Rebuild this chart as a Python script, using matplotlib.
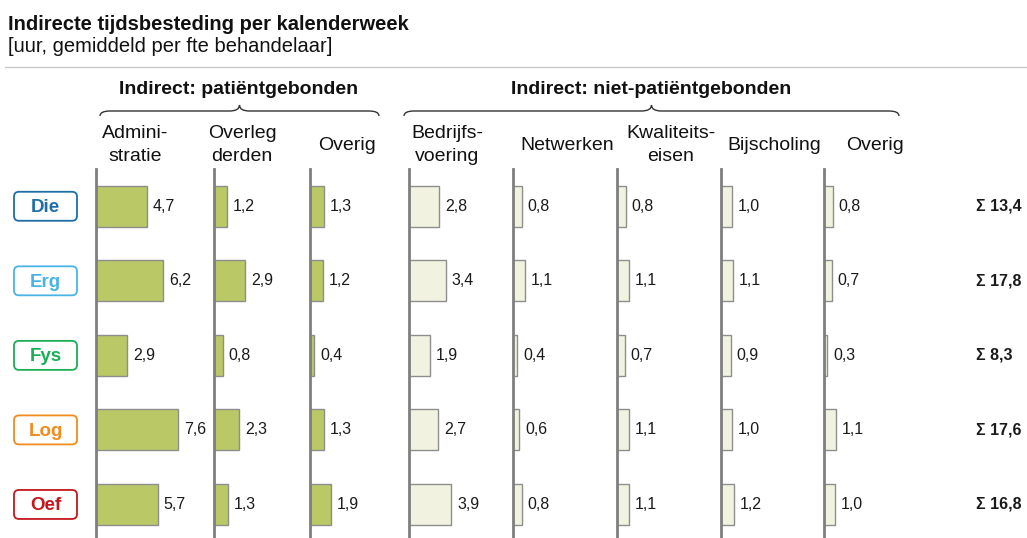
import matplotlib.pyplot as plt
import matplotlib.transforms as mtransforms
from matplotlib.patches import FancyBboxPatch, PathPatch
from matplotlib.path import Path

plt.rcParams['font.family'] = ['Liberation Sans', 'DejaVu Sans']

# Data
groups = ['Die', 'Erg', 'Fys', 'Log', 'Oef']
group_colors = ['#1f6ea6', '#48b4e6', '#1aae55', '#f28c1c', '#c4161c']
categories = ['Admini-\nstratie', 'Overleg\nderden', 'Overig', 'Bedrijfs-\nvoering',
              'Netwerken', 'Kwaliteits-\neisen', 'Bijscholing', 'Overig']
patient_bound = [True, True, True, False, False, False, False, False]
administratie = [4.7, 6.2, 2.9, 7.6, 5.7]
overleg_derden = [1.2, 2.9, 0.8, 2.3, 1.3]
overig_pat = [1.3, 1.2, 0.4, 1.3, 1.9]
bedrijfsvoering = [2.8, 3.4, 1.9, 2.7, 3.9]
netwerken = [0.8, 1.1, 0.4, 0.6, 0.8]
kwaliteitseisen = [0.8, 1.1, 0.7, 1.1, 1.1]
bijscholing = [1.0, 1.1, 0.9, 1.0, 1.2]
overig_niet = [0.8, 0.7, 0.3, 1.1, 1.0]
totals = [13.4, 17.8, 8.3, 17.6, 16.8]
columns = [administratie, overleg_derden, overig_pat, bedrijfsvoering,
           netwerken, kwaliteitseisen, bijscholing, overig_niet]

# Layout (pixels)
W, H = 1027, 538
col_x = [96, 214, 310, 409, 513, 617, 721, 824]
head_x = [135, 242, 347, 447, 567, 671, 774, 875]
px_per_hour = 10.8
top_y = 169
ylim = (4.45, -0.5)
green = '#bbc866'
pale = '#f1f3e0'
edge = '#8e8e8e'

def fmt(v):
    return f'{v:.1f}'.replace('.', ',')

fig = plt.figure(figsize=(W / 100, H / 100), dpi=100)
ax_h = (H - top_y) / H

last_ax = None
for i, vals in enumerate(columns):
    x0 = col_x[i]
    right = col_x[i + 1] if i + 1 < len(col_x) else 940
    ax = fig.add_axes([x0 / W, 0, (right - x0) / W, ax_h], facecolor='none')
    ax.set_xlim(0, (right - x0) / px_per_hour)
    ax.set_ylim(*ylim)
    ax.barh(range(len(groups)), vals, height=0.55,
            color=green if patient_bound[i] else pale, edgecolor=edge, linewidth=1)
    for j, v in enumerate(vals):
        ax.annotate(fmt(v), xy=(v, j), xytext=(4.3, 0), textcoords='offset points',
                    va='center', ha='left', fontsize=11.5, color='#1a1a1a')
    for s in ['top', 'right', 'bottom']:
        ax.spines[s].set_visible(False)
    ax.spines['left'].set_color('#7f7f7f')
    ax.spines['left'].set_linewidth(2)
    ax.set_xticks([])
    ax.set_yticks([])
    last_ax = ax

# Totals
trans = mtransforms.blended_transform_factory(fig.transFigure, last_ax.transData)
for j, t in enumerate(totals):
    last_ax.text(976 / W, j, f'Σ {fmt(t)}', transform=trans, ha='left', va='center',
                 fontsize=11.5, fontweight='bold', color='#1a1a1a')

# Group labels
lab = fig.add_axes([0, 0, 96 / W, ax_h], facecolor='none')
lab.set_xlim(0, 96)
lab.set_ylim(*ylim)
lab.axis('off')
unit_px = (H - top_y) / (ylim[0] - ylim[1])
box_h = 29 / unit_px
for j, (g, c) in enumerate(zip(groups, group_colors)):
    box = FancyBboxPatch((14, j - box_h / 2), 63, box_h,
                         boxstyle='round,pad=0,rounding_size=5',
                         mutation_aspect=1 / unit_px,
                         facecolor='white', edgecolor=c, linewidth=1.3)
    lab.add_patch(box)
    lab.text(45.5, j + 0.02, g, ha='center', va='center', fontsize=13.5,
             fontweight='bold', color=c)

# Overlay in pixel coordinates for titles, headers and braces
ov = fig.add_axes([0, 0, 1, 1], facecolor='none')
ov.set_xlim(0, W)
ov.set_ylim(H, 0)
ov.axis('off')

ov.text(8, 24, 'Indirecte tijdsbesteding per kalenderweek', fontsize=14.5,
        fontweight='bold', va='center', ha='left', color='#111111')
ov.text(8, 47, '[uur, gemiddeld per fte behandelaar]', fontsize=14.5,
        va='center', ha='left', color='#111111')
ov.plot([5, W], [67, 67], color='#c8c8c8', lw=1)

for hx, cat in zip(head_x, categories):
    ov.text(hx, 145, cat, fontsize=14, ha='center', va='center',
            linespacing=1.45, color='#111111')

def brace(x0, x1, y_flat=111, y_end=116, y_tip=105):
    xm = (x0 + x1) / 2
    verts = [(x0, y_end), (x0, y_flat), (x0 + 10, y_flat),
             (xm - 10, y_flat), (xm, y_flat), (xm, y_tip),
             (xm, y_flat), (xm + 10, y_flat),
             (x1 - 10, y_flat), (x1, y_flat), (x1, y_end)]
    codes = [Path.MOVETO, Path.CURVE3, Path.CURVE3,
             Path.LINETO, Path.CURVE3, Path.CURVE3,
             Path.CURVE3, Path.CURVE3,
             Path.LINETO, Path.CURVE3, Path.CURVE3]
    ov.add_patch(PathPatch(Path(verts, codes), fill=False, edgecolor='#333333', lw=1))

brace(100, 379)
brace(404, 899)
ov.text(239, 90, 'Indirect: patiëntgebonden', fontsize=14, fontweight='bold',
        ha='center', va='center', color='#111111')
ov.text(651, 90, 'Indirect: niet-patiëntgebonden', fontsize=14, fontweight='bold',
        ha='center', va='center', color='#111111')

fig.savefig('out.png', dpi=100, facecolor='white')
